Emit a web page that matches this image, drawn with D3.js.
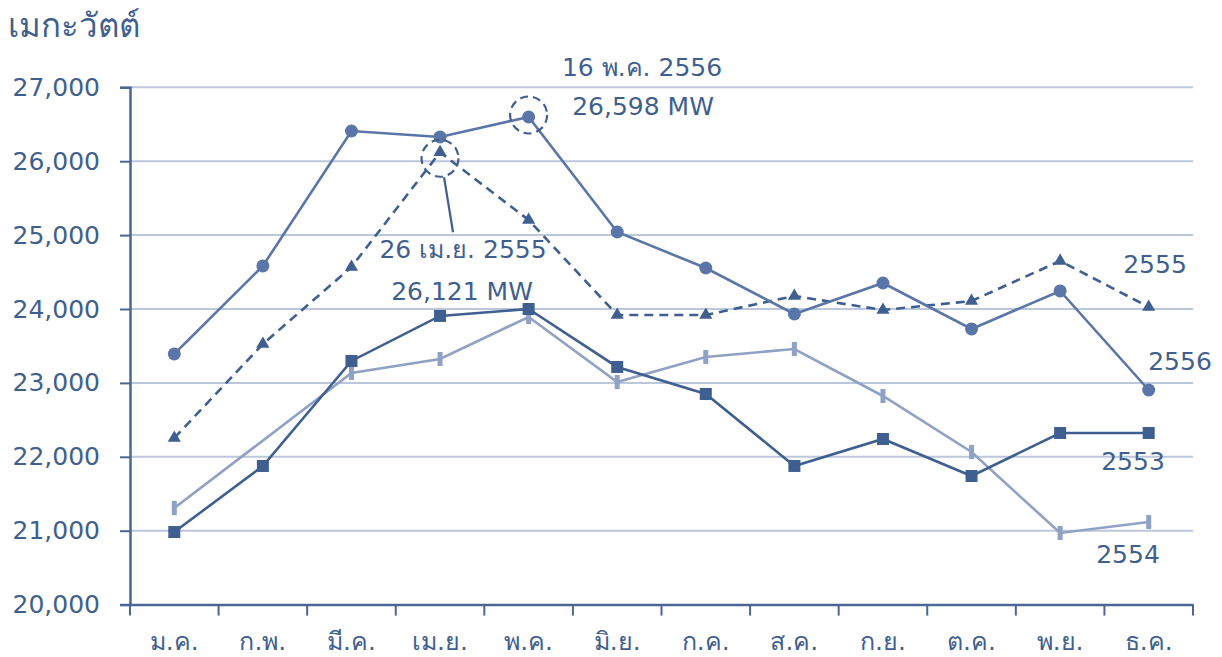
<!DOCTYPE html>
<html><head><meta charset="utf-8">
<script src="https://cdn.jsdelivr.net/npm/d3@7"></script>
<style>
body{margin:0;background:#fff;}
svg text{font-family:"DejaVu Sans","Noto Sans",Tahoma,sans-serif;fill:#3f5f8f;}
</style></head><body>
<svg id="c" width="1222" height="657"></svg>
<script>
const months = ["ม.ค.","ก.พ.","มี.ค.","เม.ย.","พ.ค.","มิ.ย.","ก.ค.","ส.ค.","ก.ย.","ต.ค.","พ.ย.","ธ.ค."];
const yTicks = [20000,21000,22000,23000,24000,25000,26000,27000];
const s2553 = [20982,21876,23297,23906,24000,23216,22850,21876,22241,21740,22322,22322];
const s2554 = [21307,null,23134,23324,23892,23012,23351,23459,22823,22065,20969,21118];
const s2555 = [22254,23526,24568,26121,25204,23919,23919,24176,23986,24108,24650,24027];
const s2556 = [23392,24583,26409,26328,26598,25042,24555,23932,24352,23730,24244,22904];
const unitLabel = "เมกะวัตต์";
const note2556 = ["16 พ.ค. 2556","26,598 MW"];
const note2555 = ["26 เม.ย. 2555","26,121 MW"];

const svg = d3.select("#c");
const L=130, R=1193, T=87.3, B=604.6;
const x = d3.scaleBand().domain(months).range([L,R]);
const y = d3.scaleLinear().domain([20000,27000]).range([B,T]);
const cx = m => x(m)+x.bandwidth()/2;

// gridlines
svg.append("g").selectAll("line").data(yTicks.slice(1)).join("line")
  .attr("x1",L).attr("x2",R).attr("y1",d=>y(d)).attr("y2",d=>y(d))
  .attr("stroke","#bcc7dc").attr("stroke-width",2);

// y axis
const yAx = svg.append("g").attr("transform",`translate(${L},0)`)
  .call(d3.axisLeft(y).tickValues(yTicks).tickSize(10).tickPadding(20).tickFormat(d3.format(",")));
yAx.select(".domain").attr("stroke","#4a6796").attr("stroke-width",2.5);
yAx.selectAll(".tick line").attr("stroke","#4a6796").attr("stroke-width",2);
yAx.selectAll(".tick text").attr("font-size",25).attr("fill","#3f5f8f").attr("font-family","DejaVu Sans, sans-serif");

// x axis
const xAx = svg.append("g").attr("transform",`translate(0,${B})`)
  .call(d3.axisBottom(x).tickSize(0).tickPadding(28));
xAx.select(".domain").attr("stroke","#4a6796").attr("stroke-width",2.5);
xAx.selectAll(".tick text").attr("font-size",25).attr("fill","#3f5f8f");
// boundary ticks
const bounds = months.map(m=>x(m)).concat([R]);
svg.append("g").selectAll("line").data(bounds).join("line")
  .attr("x1",d=>d).attr("x2",d=>d).attr("y1",B).attr("y2",B+11)
  .attr("stroke","#4a6796").attr("stroke-width",2);

// series
const series = [
  {name:"2554", data:s2554, color:"#8fa1c4", dash:null, marker:"bar"},
  {name:"2553", data:s2553, color:"#3e5f90", dash:null, marker:"square"},
  {name:"2555", data:s2555, color:"#3e5f90", dash:"9,6", marker:"triangle"},
  {name:"2556", data:s2556, color:"#5a76a8", dash:null, marker:"circle"}
];
const line = d3.line().x(d=>cx(d.m)).y(d=>y(d.v));
series.forEach(s=>{
  const pts = s.data.map((v,i)=>({m:months[i],v})).filter(d=>d.v!==null);
  const g = svg.append("g");
  g.append("path").datum(pts).attr("d",line).attr("fill","none")
    .attr("stroke",s.color).attr("stroke-width",2.6)
    .attr("stroke-dasharray",s.dash);
  const mk = g.selectAll(".mk").data(pts).join("g")
    .attr("transform",d=>`translate(${cx(d.m)},${y(d.v)})`);
  if(s.marker==="circle") mk.append("circle").attr("r",6.5).attr("fill",s.color);
  if(s.marker==="square") mk.append("rect").attr("x",-6).attr("y",-6).attr("width",12).attr("height",12).attr("fill",s.color);
  if(s.marker==="triangle") mk.append("path").attr("d",d3.symbol(d3.symbolTriangle,75)()).attr("fill",s.color);
  if(s.marker==="bar") mk.append("rect").attr("x",-2.5).attr("y",-7).attr("width",5).attr("height",14).attr("fill",s.color);
});

// annotations
const ann = svg.append("g");
const pMay = {x:cx(months[4]), y:y(s2556[4])};
const pApr = {x:cx(months[3]), y:y(s2555[3])};
ann.append("circle").attr("cx",pMay.x).attr("cy",pMay.y-2).attr("r",18.5)
  .attr("fill","none").attr("stroke","#3e5f90").attr("stroke-width",2.2).attr("stroke-dasharray","8,5");
ann.append("circle").attr("cx",pApr.x).attr("cy",pApr.y+6).attr("r",18.5)
  .attr("fill","none").attr("stroke","#3e5f90").attr("stroke-width",2.2).attr("stroke-dasharray","8,5");
ann.append("line").attr("x1",pApr.x+4).attr("y1",pApr.y+25).attr("x2",pApr.x+13).attr("y2",pApr.y+80)
  .attr("stroke","#3e5f90").attr("stroke-width",2.2);

ann.append("text").attr("x",642).attr("y",76).attr("text-anchor","middle").attr("font-size",25).text(note2556[0]);
ann.append("text").attr("x",643).attr("y",115).attr("text-anchor","middle").attr("font-size",25).text(note2556[1]);
ann.append("text").attr("x",463).attr("y",258).attr("text-anchor","middle").attr("font-size",25).text(note2555[0]);
ann.append("text").attr("x",462).attr("y",300).attr("text-anchor","middle").attr("font-size",25).text(note2555[1]);

const endLabels = [["2555",1155,273],["2556",1180,370],["2553",1133,470],["2554",1128,563]];
ann.selectAll(".el").data(endLabels).join("text").attr("class","el")
  .attr("x",d=>d[1]).attr("y",d=>d[2]).attr("text-anchor","middle").attr("font-size",25).text(d=>d[0]);

svg.append("text").attr("x",8).attr("y",37).attr("font-size",33).text(unitLabel);
</script>
</body></html>
